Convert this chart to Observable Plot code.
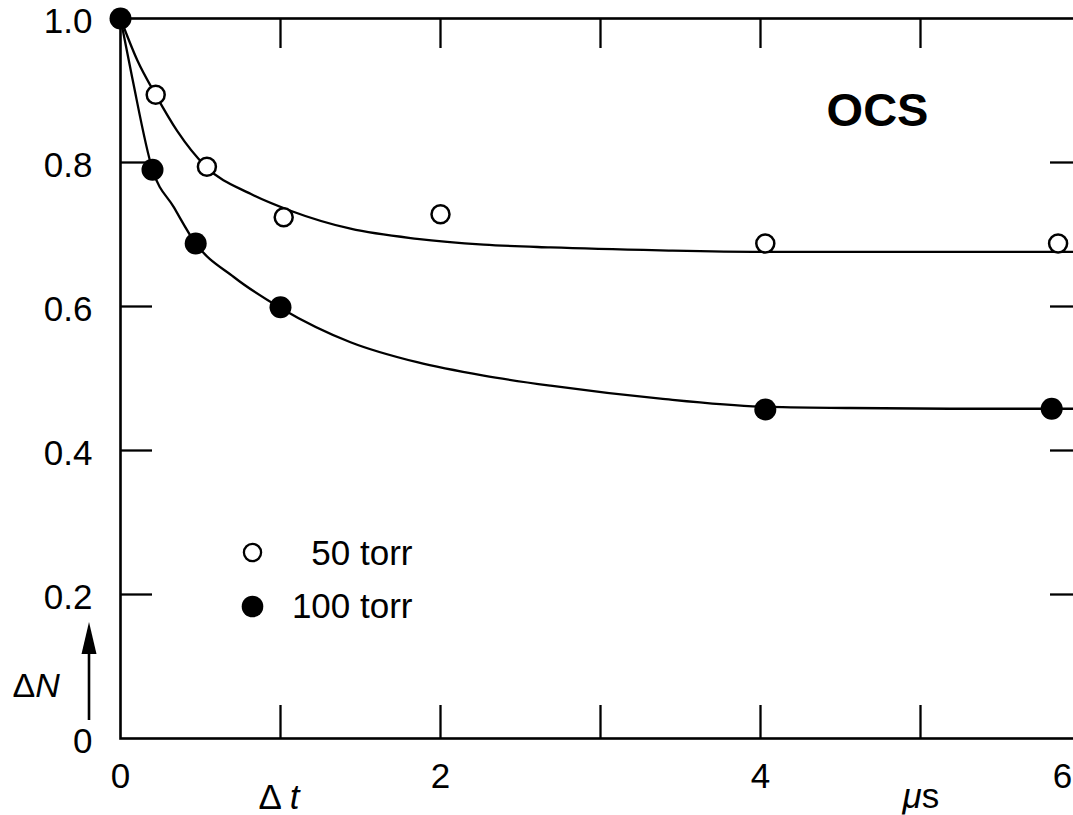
<!DOCTYPE html>
<html><head><meta charset="utf-8">
<script src="https://cdn.jsdelivr.net/npm/d3@7"></script>
<script src="https://cdn.jsdelivr.net/npm/@observablehq/plot@0.6"></script>
<style>html,body{margin:0;padding:0;background:#fff;overflow:hidden;}</style>
</head><body><div id="chart"></div>
<script>
// ---- data ----
const seriesNames = ["50 torr", "100 torr"];
// measured points, 50 torr (open circles)
const t50 = [0, 0.22, 0.54, 1.02, 2.0, 4.03, 5.86];
const n50 = [1.0, 0.894, 0.794, 0.724, 0.728, 0.6875, 0.6875];
// measured points, 100 torr (filled circles)
const t100 = [0, 0.2, 0.47, 1.0, 4.03, 5.82];
const n100 = [1.0, 0.79, 0.6875, 0.599, 0.457, 0.458];
// fitted curve, 50 torr
const fit50T = [0, 0.105, 0.22, 0.354, 0.535, 0.8125, 1.0625, 1.4375, 1.854, 2.27, 2.6875, 3.375, 4.0, 5.0, 6.0];
const fit50N = [1.0, 0.942, 0.894, 0.844, 0.794, 0.7565, 0.733, 0.708, 0.694, 0.686, 0.682, 0.678, 0.676, 0.676, 0.676];
// fitted curve, 100 torr
const fit100T = [0, 0.073, 0.2, 0.333, 0.47, 0.708, 1.0, 1.4375, 1.854, 2.27, 2.6875, 3.375, 4.0, 4.56, 5.19, 6.0];
const fit100N = [1.0, 0.918, 0.79, 0.738, 0.6875, 0.641, 0.598, 0.5504, 0.5226, 0.504, 0.49, 0.472, 0.461, 0.459, 0.458, 0.458];
// ticks and labels
const xTickVals = [1, 2, 3, 4, 5];
const xLabelVals = [0, 2, 4];
const xLastLabel = [6];
const yTickVals = [0.2, 0.4, 0.6, 0.8];
const yLabelVals = [0, 0.2, 0.4, 0.6, 0.8, 1.0];
const titleText = ["OCS"];
const xTitle = ["Δ t"];
const xUnit = ["μs"];
const yTitle = ["ΔN"];

// ---- build ----
const pts50 = t50.map((t, i) => ({t, n: n50[i]}));
const pts100 = t100.map((t, i) => ({t, n: n100[i]}));
const fit50 = fit50T.map((t, i) => ({t, n: fit50N[i]}));
const fit100 = fit100T.map((t, i) => ({t, n: fit100N[i]}));

const W = 1073, H = 815, ML = 120, MR = -7, MT = 18, MB = 77;
const FW = W - MR - ML, FH = H - MB - MT;
const font = "'Liberation Sans', Arial, Helvetica, sans-serif";
const txt = {lineAnchor: "middle", fill: "black"};

const chart = Plot.plot({
  width: W, height: H,
  marginLeft: ML, marginRight: MR, marginTop: MT, marginBottom: MB,
  x: {domain: [0, 6], axis: null},
  y: {domain: [0, 1], axis: null},
  style: {fontFamily: font, fontSize: "35px", color: "black", background: "white", overflow: "hidden"},
  marks: [
    Plot.frame({stroke: "black", strokeWidth: 2.6}),
    Plot.tickY(yTickVals, {y: d => d, insetRight: FW - 32, stroke: "black", strokeWidth: 2.3}),
    Plot.tickY(yTickVals, {y: d => d, insetLeft: FW - 30, stroke: "black", strokeWidth: 2.3}),
    Plot.tickX(xTickVals, {x: d => d, insetTop: FH - 33, stroke: "black", strokeWidth: 2.3}),
    Plot.tickX(xTickVals, {x: d => d, insetBottom: FH - 30, stroke: "black", strokeWidth: 2.3}),
    Plot.line(fit50, {x: "t", y: "n", curve: "monotone-x", stroke: "black", strokeWidth: 2.3}),
    Plot.line(fit100, {x: "t", y: "n", curve: "monotone-x", stroke: "black", strokeWidth: 2.3}),
    Plot.dot(pts50, {x: "t", y: "n", r: 9, fill: "white", stroke: "black", strokeWidth: 2.5}),
    Plot.dot(pts100, {x: "t", y: "n", r: 11, fill: "black", stroke: "none"}),
    // axis labels
    Plot.text(yLabelVals, {...txt, y: d => d, text: d => d === 0 ? "0" : d.toFixed(1), frameAnchor: "left", dx: -28, dy: 3, textAnchor: "end", fontSize: 35}),
    Plot.text(xLabelVals, {...txt, x: d => d, text: d => String(d), frameAnchor: "bottom", textAnchor: "middle", dy: 38, fontSize: 35}),
    Plot.text(xLastLabel, {...txt, x: d => d, text: d => String(d), frameAnchor: "bottom", textAnchor: "middle", dx: -18, dy: 38, fontSize: 35}),
    Plot.text(xTitle, {...txt, frameAnchor: "bottom-left", dx: 138, dy: 59, textAnchor: "start", fontSize: 35}),
    Plot.text(xUnit, {...txt, frameAnchor: "bottom-left", dx: 782, dy: 58, textAnchor: "start", fontSize: 35}),
    Plot.text(yTitle, {...txt, frameAnchor: "bottom-left", dx: -108, dy: -52, textAnchor: "start", fontSize: 34}),
    // title
    Plot.text(titleText, {...txt, frameAnchor: "top-left", dx: 757, dy: 92, textAnchor: "middle", fontWeight: "bold", fontSize: 47}),
    // legend
    Plot.dot([seriesNames[0]], {frameAnchor: "bottom-left", dx: 132, dy: -186, r: 8.6, fill: "white", stroke: "black", strokeWidth: 2.3}),
    Plot.dot([seriesNames[1]], {frameAnchor: "bottom-left", dx: 132, dy: -132, r: 10.8, fill: "black", stroke: "none"}),
    Plot.text([seriesNames[0]], {...txt, frameAnchor: "bottom-left", dx: 292, dy: -185, textAnchor: "end", fontSize: 35}),
    Plot.text([seriesNames[1]], {...txt, frameAnchor: "bottom-left", dx: 292, dy: -132, textAnchor: "end", fontSize: 35})
  ]
});
document.getElementById("chart").appendChild(chart);

// mixed upright / italic pieces
function restyle(str, parts) {
  chart.querySelectorAll("text").forEach(t => {
    if (t.textContent === str) {
      while (t.firstChild) t.removeChild(t.firstChild);
      for (const [s, it] of parts) {
        const ts = document.createElementNS("http://www.w3.org/2000/svg", "tspan");
        ts.textContent = s;
        if (it) ts.setAttribute("font-style", "italic");
        t.appendChild(ts);
      }
    }
  });
}
restyle("Δ t", [["Δ ", false], ["t", true]]);
restyle("μs", [["μ", true], ["s", false]]);
restyle("ΔN", [["Δ", false], ["N", true]]);

// ΔN arrow, placed from the plot's scales
const sx = chart.scale("x"), sy = chart.scale("y");
const ax = sx.apply(0) - 31;
const yBase = sy.apply(0);
const g = d3.select(chart).append("g");
g.append("line").attr("x1", ax).attr("x2", ax).attr("y1", yBase - 18).attr("y2", yBase - 84)
  .attr("stroke", "black").attr("stroke-width", 2.6);
g.append("path").attr("d", `M${ax - 7.5},${yBase - 84}L${ax + 7.5},${yBase - 84}L${ax},${yBase - 116}Z`).attr("fill", "black");
</script>
</body></html>
